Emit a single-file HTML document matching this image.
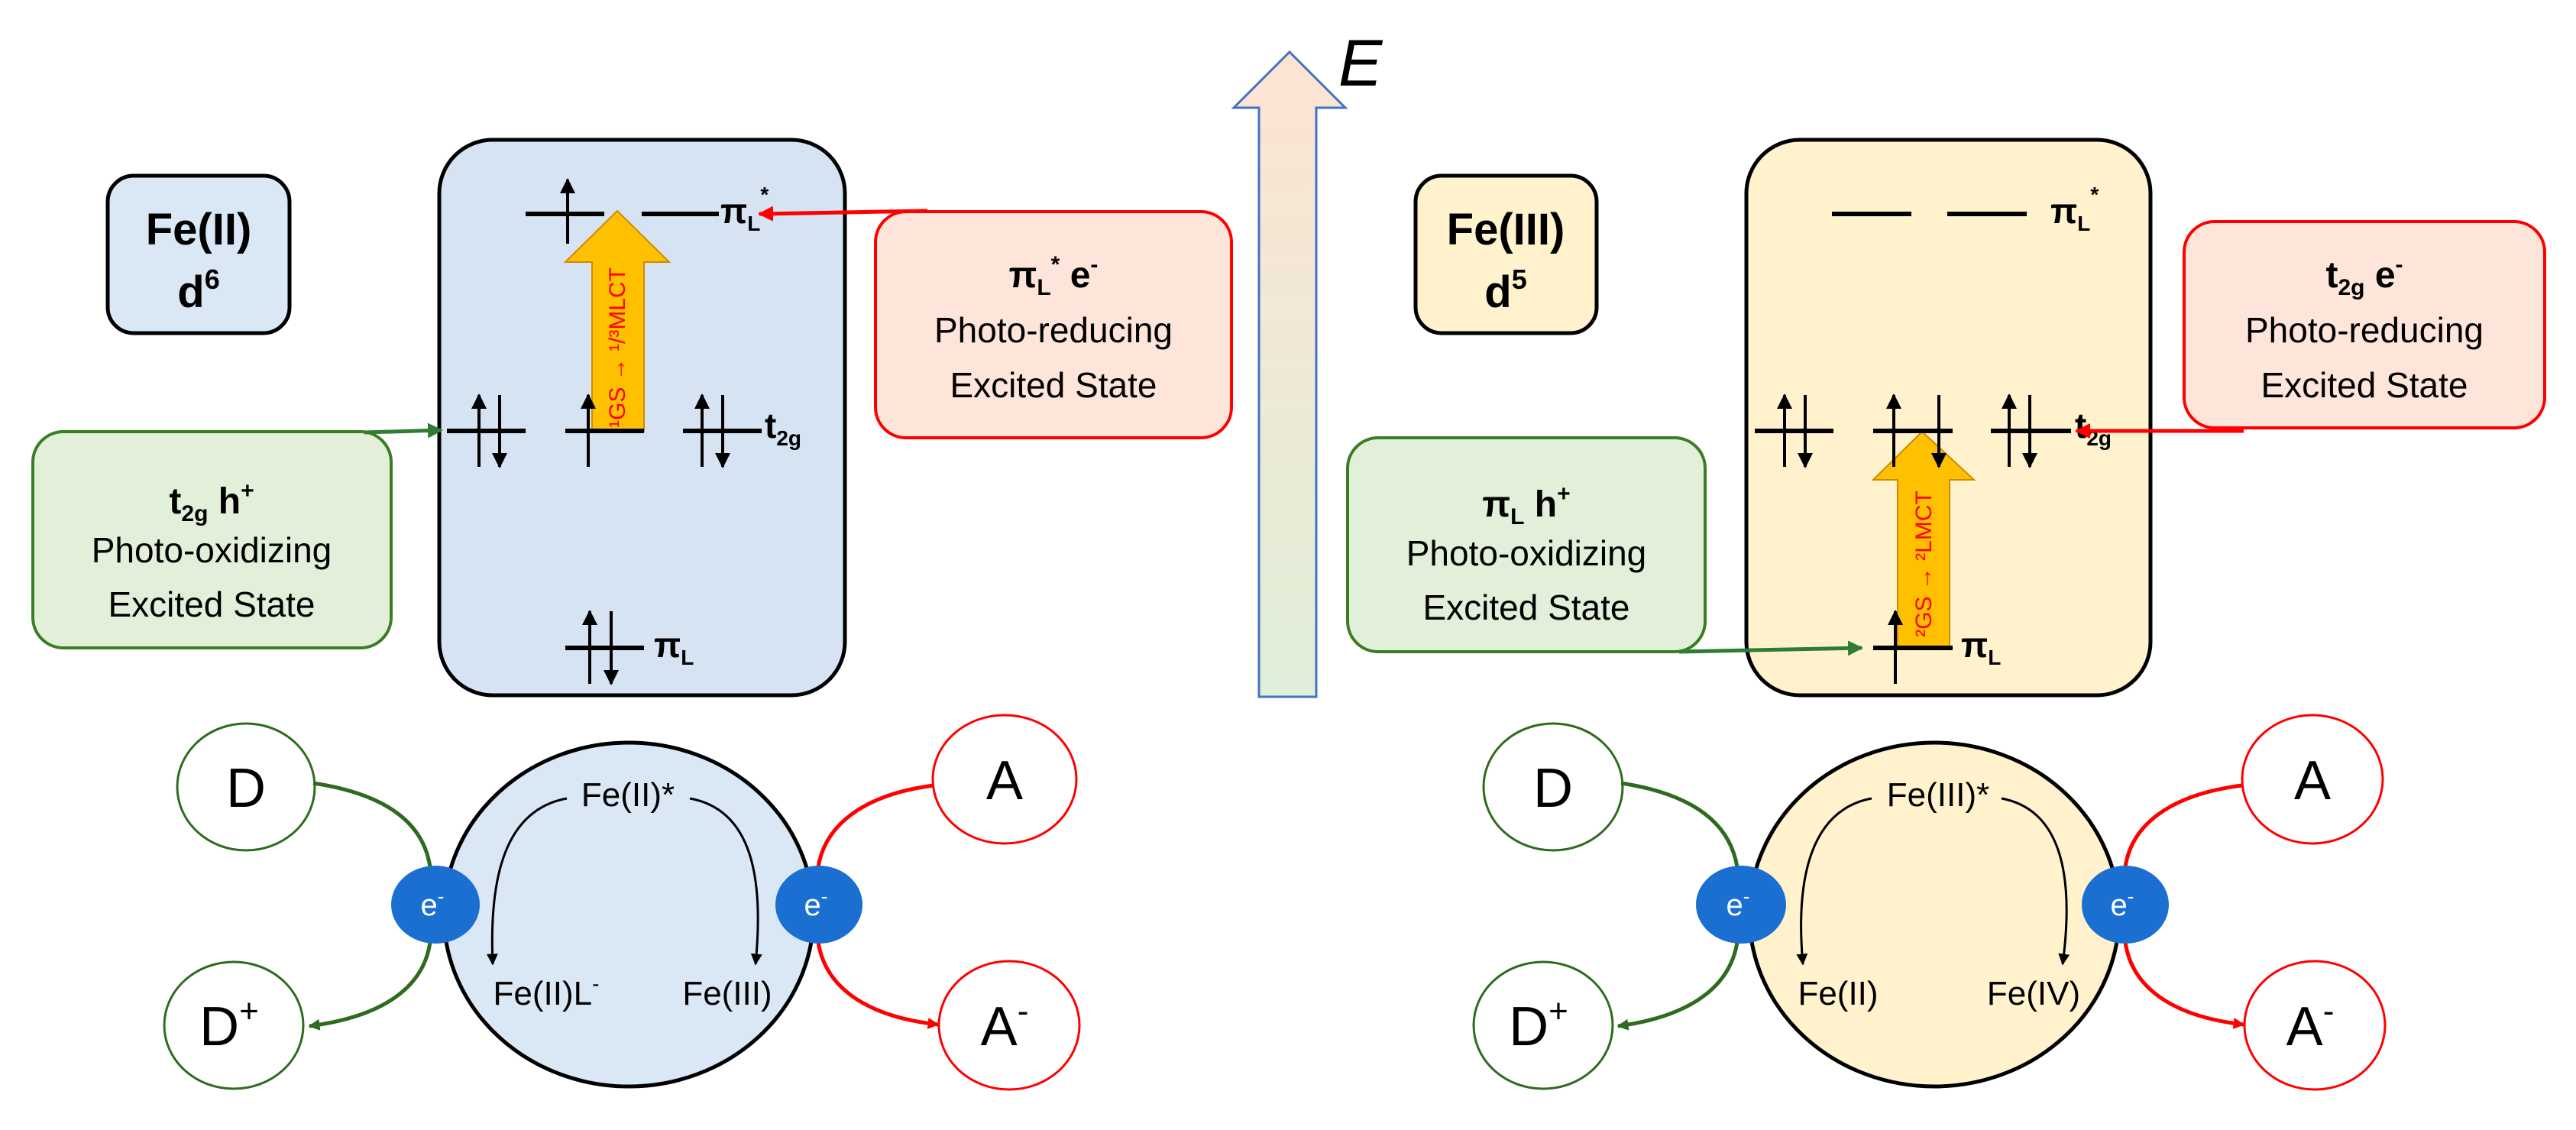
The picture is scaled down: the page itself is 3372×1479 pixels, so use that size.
<!DOCTYPE html>
<html><head><meta charset="utf-8"><style>html,body{margin:0;padding:0;background:#fff}svg{display:block}</style></head><body>
<svg width="3372" height="1479" viewBox="0 0 3372 1479" xmlns="http://www.w3.org/2000/svg" font-family="Liberation Sans, sans-serif">
<defs>
<marker id="ab" viewBox="0 0 10 10" refX="9" refY="5" markerWidth="5" markerHeight="5" orient="auto-start-reverse" markerUnits="strokeWidth"><path d="M0,0L10,5L0,10z" fill="#000"/></marker>
<marker id="ar" viewBox="0 0 10 10" refX="9" refY="5" markerWidth="4" markerHeight="4" orient="auto"><path d="M0,0L10,5L0,10z" fill="#ff0000"/></marker>
<marker id="ag" viewBox="0 0 10 10" refX="9" refY="5" markerWidth="4" markerHeight="4" orient="auto"><path d="M0,0L10,5L0,10z" fill="#2e7d32"/></marker>
<marker id="ar2" viewBox="0 0 10 10" refX="9" refY="5" markerWidth="3" markerHeight="3" orient="auto"><path d="M0,0L10,5L0,10z" fill="#ff0000"/></marker>
<marker id="ag2" viewBox="0 0 10 10" refX="9" refY="5" markerWidth="3" markerHeight="3" orient="auto"><path d="M0,0L10,5L0,10z" fill="#2e6b1e"/></marker>
<marker id="ak" viewBox="0 0 10 10" refX="9" refY="5" markerWidth="5" markerHeight="5" orient="auto"><path d="M0,0L10,5L0,10z" fill="#000"/></marker>
<linearGradient id="eg" x1="0" y1="0" x2="0" y2="1"><stop offset="0" stop-color="#fde3d3"/><stop offset="1" stop-color="#e0efd8"/></linearGradient>
</defs>

<!-- E arrow -->
<path d="M1648,912 L1648,141 L1615,141 L1688,68 L1761,141 L1723,141 L1723,912 Z" fill="url(#eg)" stroke="#4472c4" stroke-width="3"/>
<text x="1752" y="112" font-size="86" font-style="italic">E</text>

<!-- Fe(II) box -->
<rect x="141" y="230" width="238" height="206" rx="34" fill="#dae8f5" stroke="#000" stroke-width="5"/>
<text x="260" y="320" font-size="58" font-weight="bold" text-anchor="middle">Fe(II)</text>
<text x="260" y="402" font-size="58" font-weight="bold" text-anchor="middle">d<tspan font-size="36" dy="-24">6</tspan></text>

<!-- Fe(III) box -->
<rect x="1853" y="230" width="237" height="206" rx="34" fill="#fff2cc" stroke="#000" stroke-width="5"/>
<text x="1971" y="320" font-size="58" font-weight="bold" text-anchor="middle">Fe(III)</text>
<text x="1971" y="402" font-size="58" font-weight="bold" text-anchor="middle">d<tspan font-size="36" dy="-24">5</tspan></text>

<!-- Left panel -->
<rect x="575" y="183" width="531" height="727" rx="70" fill="#d6e3f3" stroke="#000" stroke-width="5"/>
<!-- orange arrow left -->
<path d="M775,565 L775,343 L740,343 L808,276 L876,343 L843,343 L843,565 Z" fill="#ffc000" stroke="#d08a00" stroke-width="2"/>
<text transform="translate(818,455) rotate(-90)" font-size="30" fill="#ff0000" text-anchor="middle">¹GS → ¹/³MLCT</text>
<g stroke="#000" stroke-width="6">
<line x1="688" y1="280" x2="791" y2="280"/><line x1="840" y1="280" x2="941" y2="280"/>
<line x1="585" y1="564" x2="688" y2="564"/><line x1="740" y1="564" x2="843" y2="564"/><line x1="894" y1="564" x2="997" y2="564"/>
<line x1="740" y1="848" x2="843" y2="848"/>
</g>
<g stroke="#000" stroke-width="4" marker-end="url(#ab)">
<line x1="743" y1="319" x2="743" y2="235"/>
<line x1="627" y1="611" x2="627" y2="517"/><line x1="654" y1="517" x2="654" y2="611"/>
<line x1="770" y1="611" x2="770" y2="517"/>
<line x1="919" y1="611" x2="919" y2="517"/><line x1="946" y1="517" x2="946" y2="611"/>
<line x1="772" y1="895" x2="772" y2="800"/><line x1="800" y1="800" x2="800" y2="895"/>
</g>
<text x="943" y="292" font-size="46" font-weight="bold">π<tspan font-size="28" dy="10">L</tspan><tspan font-size="28" dy="-38">*</tspan></text>
<text x="1001" y="573" font-size="46" font-weight="bold">t<tspan font-size="28" dy="10">2g</tspan></text>
<text x="856" y="860" font-size="46" font-weight="bold">π<tspan font-size="28" dy="10">L</tspan></text>

<!-- Right panel -->
<rect x="2286" y="183" width="529" height="727" rx="70" fill="#fff2cc" stroke="#000" stroke-width="5"/>
<path d="M2484,848 L2484,628 L2452,628 L2516,565 L2584,628 L2552,628 L2552,848 Z" fill="#ffc000" stroke="#d08a00" stroke-width="2"/>
<text transform="translate(2528,738) rotate(-90)" font-size="30" fill="#ff0000" text-anchor="middle">²GS → ²LMCT</text>
<g stroke="#000" stroke-width="6">
<line x1="2398" y1="280" x2="2502" y2="280"/><line x1="2549" y1="280" x2="2653" y2="280"/>
<line x1="2297" y1="564" x2="2400" y2="564"/><line x1="2452" y1="564" x2="2556" y2="564"/><line x1="2606" y1="564" x2="2711" y2="564"/>
<line x1="2452" y1="848" x2="2556" y2="848"/>
</g>
<g stroke="#000" stroke-width="4" marker-end="url(#ab)">
<line x1="2336" y1="611" x2="2336" y2="517"/><line x1="2363" y1="517" x2="2363" y2="611"/>
<line x1="2479" y1="611" x2="2479" y2="517"/><line x1="2538" y1="517" x2="2538" y2="611"/>
<line x1="2630" y1="611" x2="2630" y2="517"/><line x1="2657" y1="517" x2="2657" y2="611"/>
<line x1="2481" y1="895" x2="2481" y2="800"/>
</g>
<text x="2684" y="292" font-size="46" font-weight="bold">π<tspan font-size="28" dy="10">L</tspan><tspan font-size="28" dy="-38">*</tspan></text>
<text x="2716" y="573" font-size="46" font-weight="bold">t<tspan font-size="28" dy="10">2g</tspan></text>
<text x="2567" y="860" font-size="46" font-weight="bold">π<tspan font-size="28" dy="10">L</tspan></text>

<!-- Left green box -->
<rect x="43" y="565" width="469" height="283" rx="40" fill="#e2f0d9" stroke="#3a7d22" stroke-width="4"/>
<text x="277" y="672" font-size="48" font-weight="bold" text-anchor="middle">t<tspan font-size="30" dy="10">2g</tspan><tspan dy="-10"> h</tspan><tspan font-size="30" dy="-20">+</tspan></text>
<text x="277" y="736" font-size="46" text-anchor="middle">Photo-oxidizing</text>
<text x="277" y="807" font-size="46" text-anchor="middle">Excited State</text>
<line x1="477" y1="566" x2="578" y2="563" stroke="#2e7d32" stroke-width="5" marker-end="url(#ag)"/>

<!-- Left red box -->
<rect x="1146" y="277" width="466" height="296" rx="40" fill="#fde5da" stroke="#ff0000" stroke-width="4"/>
<text x="1379" y="376" font-size="48" font-weight="bold" text-anchor="middle">π<tspan font-size="30" dy="10">L</tspan><tspan font-size="30" dy="-30">*</tspan><tspan dy="20"> e</tspan><tspan font-size="30" dy="-20">-</tspan></text>
<text x="1379" y="448" font-size="46" text-anchor="middle">Photo-reducing</text>
<text x="1379" y="520" font-size="46" text-anchor="middle">Excited State</text>
<line x1="1214" y1="276" x2="994" y2="280" stroke="#ff0000" stroke-width="5" marker-end="url(#ar)"/>

<!-- Right green box -->
<rect x="1764" y="573" width="468" height="280" rx="40" fill="#e2f0d9" stroke="#3a7d22" stroke-width="4"/>
<text x="1998" y="676" font-size="48" font-weight="bold" text-anchor="middle">π<tspan font-size="30" dy="10">L</tspan><tspan dy="-10"> h</tspan><tspan font-size="30" dy="-20">+</tspan></text>
<text x="1998" y="740" font-size="46" text-anchor="middle">Photo-oxidizing</text>
<text x="1998" y="811" font-size="46" text-anchor="middle">Excited State</text>
<line x1="2198" y1="853" x2="2437" y2="848" stroke="#2e7d32" stroke-width="5" marker-end="url(#ag)"/>

<!-- Right red box -->
<rect x="2859" y="290" width="472" height="270" rx="40" fill="#fde5da" stroke="#ff0000" stroke-width="4"/>
<text x="3095" y="376" font-size="48" font-weight="bold" text-anchor="middle">t<tspan font-size="30" dy="10">2g</tspan><tspan dy="-10"> e</tspan><tspan font-size="30" dy="-20">-</tspan></text>
<text x="3095" y="448" font-size="46" text-anchor="middle">Photo-reducing</text>
<text x="3095" y="520" font-size="46" text-anchor="middle">Excited State</text>
<line x1="2937" y1="564" x2="2718" y2="564" stroke="#ff0000" stroke-width="5" marker-end="url(#ar)"/>

<!-- Bottom left cycle -->
<ellipse cx="823" cy="1197" rx="242" ry="225" fill="#dae8f5" stroke="#000" stroke-width="5"/>
<ellipse cx="322" cy="1030" rx="90" ry="83" fill="#fff" stroke="#2e6b1e" stroke-width="3"/>
<ellipse cx="306" cy="1342" rx="91" ry="83" fill="#fff" stroke="#2e6b1e" stroke-width="3"/>
<ellipse cx="1315" cy="1020" rx="94" ry="84" fill="#fff" stroke="#ff0000" stroke-width="3"/>
<ellipse cx="1321" cy="1342" rx="92" ry="84" fill="#fff" stroke="#ff0000" stroke-width="3"/>
<text x="322" y="1056" font-size="72" text-anchor="middle">D</text>
<text x="300" y="1368" font-size="72" text-anchor="middle">D<tspan font-size="44" dy="-30">+</tspan></text>
<text x="1315" y="1046" font-size="72" text-anchor="middle">A</text>
<text x="1315" y="1368" font-size="72" text-anchor="middle">A<tspan font-size="44" dy="-30">-</tspan></text>
<path d="M410,1025 C510,1040 555,1080 563,1135" fill="none" stroke="#2e6b1e" stroke-width="5"/>
<path d="M563,1233 C555,1290 505,1330 405,1343" fill="none" stroke="#2e6b1e" stroke-width="5" marker-end="url(#ag2)"/>
<path d="M1222,1028 C1130,1040 1080,1080 1071,1135" fill="none" stroke="#ff0000" stroke-width="5"/>
<path d="M1071,1233 C1080,1290 1130,1330 1228,1341" fill="none" stroke="#ff0000" stroke-width="5" marker-end="url(#ar2)"/>
<ellipse cx="570" cy="1184" rx="58" ry="51" fill="#1a6fd1"/>
<ellipse cx="1072" cy="1184" rx="57" ry="51" fill="#1a6fd1"/>
<text x="566" y="1198" font-size="40" fill="#fff" text-anchor="middle">e<tspan font-size="26" dy="-16">-</tspan></text>
<text x="1068" y="1198" font-size="40" fill="#fff" text-anchor="middle">e<tspan font-size="26" dy="-16">-</tspan></text>
<text x="822" y="1055" font-size="44" text-anchor="middle">Fe(II)*</text>
<path d="M742,1045 C660,1060 640,1150 645,1262" fill="none" stroke="#000" stroke-width="3" marker-end="url(#ak)"/>
<path d="M903,1045 C985,1060 1000,1150 989,1262" fill="none" stroke="#000" stroke-width="3" marker-end="url(#ak)"/>
<text x="715" y="1315" font-size="44" text-anchor="middle">Fe(II)L<tspan font-size="28" dy="-18">-</tspan></text>
<text x="952" y="1315" font-size="44" text-anchor="middle">Fe(III)</text>

<!-- Bottom right cycle -->
<ellipse cx="2532" cy="1197" rx="242" ry="225" fill="#fff2cc" stroke="#000" stroke-width="5"/>
<ellipse cx="2033" cy="1030" rx="91" ry="83" fill="#fff" stroke="#2e6b1e" stroke-width="3"/>
<ellipse cx="2020" cy="1342" rx="91" ry="83" fill="#fff" stroke="#2e6b1e" stroke-width="3"/>
<ellipse cx="3027" cy="1020" rx="92" ry="84" fill="#fff" stroke="#ff0000" stroke-width="3"/>
<ellipse cx="3030" cy="1342" rx="92" ry="84" fill="#fff" stroke="#ff0000" stroke-width="3"/>
<text x="2033" y="1056" font-size="72" text-anchor="middle">D</text>
<text x="2014" y="1368" font-size="72" text-anchor="middle">D<tspan font-size="44" dy="-30">+</tspan></text>
<text x="3027" y="1046" font-size="72" text-anchor="middle">A</text>
<text x="3024" y="1368" font-size="72" text-anchor="middle">A<tspan font-size="44" dy="-30">-</tspan></text>
<path d="M2122,1025 C2220,1040 2265,1080 2274,1135" fill="none" stroke="#2e6b1e" stroke-width="5"/>
<path d="M2274,1233 C2265,1290 2215,1330 2118,1343" fill="none" stroke="#2e6b1e" stroke-width="5" marker-end="url(#ag2)"/>
<path d="M2935,1028 C2840,1040 2790,1080 2782,1135" fill="none" stroke="#ff0000" stroke-width="5"/>
<path d="M2782,1233 C2790,1290 2840,1330 2937,1341" fill="none" stroke="#ff0000" stroke-width="5" marker-end="url(#ar2)"/>
<ellipse cx="2279" cy="1184" rx="59" ry="51" fill="#1a6fd1"/>
<ellipse cx="2782" cy="1184" rx="57" ry="51" fill="#1a6fd1"/>
<text x="2275" y="1198" font-size="40" fill="#fff" text-anchor="middle">e<tspan font-size="26" dy="-16">-</tspan></text>
<text x="2778" y="1198" font-size="40" fill="#fff" text-anchor="middle">e<tspan font-size="26" dy="-16">-</tspan></text>
<text x="2537" y="1055" font-size="44" text-anchor="middle">Fe(III)*</text>
<path d="M2450,1045 C2370,1060 2350,1150 2360,1262" fill="none" stroke="#000" stroke-width="3" marker-end="url(#ak)"/>
<path d="M2620,1045 C2700,1060 2715,1150 2700,1262" fill="none" stroke="#000" stroke-width="3" marker-end="url(#ak)"/>
<text x="2406" y="1315" font-size="44" text-anchor="middle">Fe(II)</text>
<text x="2662" y="1315" font-size="44" text-anchor="middle">Fe(IV)</text>
</svg>
</body></html>
